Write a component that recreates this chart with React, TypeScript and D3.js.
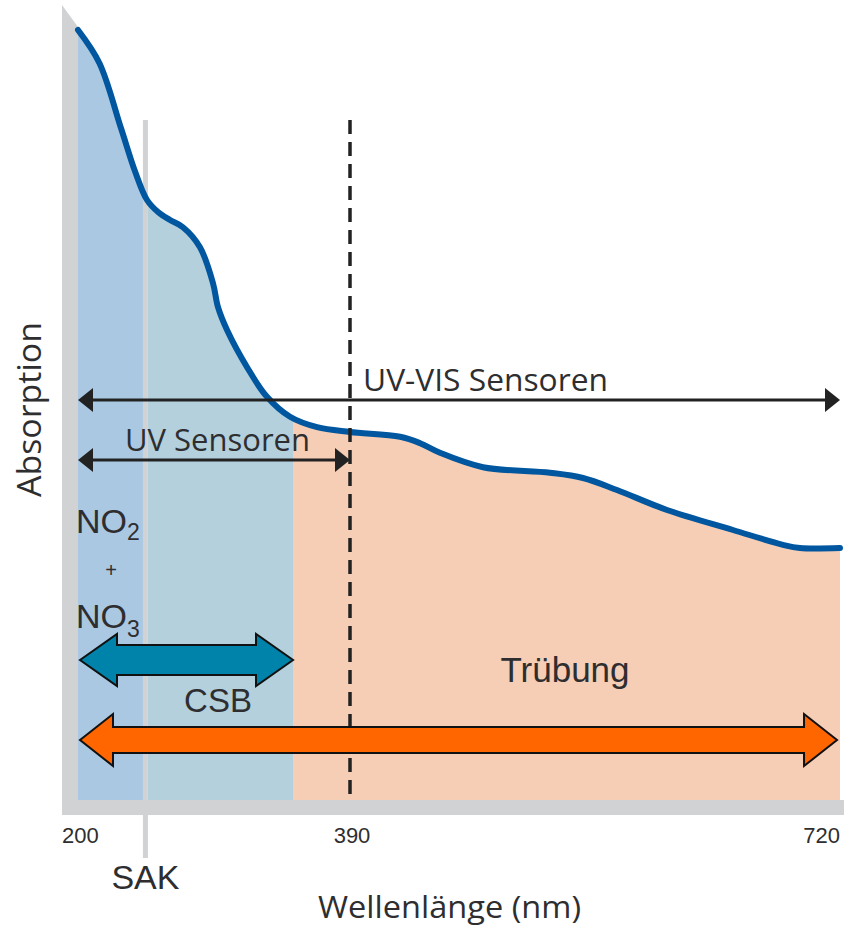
import React from "react";
import * as d3 from "d3";

// absorption spectrum (wavelength nm, absorption in %)
const curveNm = [200, 215, 230, 240, 248.2, 255.9, 264.3, 273.3, 285.2, 294.3, 297.8, 304.1, 318.1, 332.0, 348.1, 367.0, 390, 423.7, 437.2, 450.6, 479.6, 524.7, 546.9, 569.8, 603.5, 647.9, 681.6, 693.0, 720];
const curveAbs = [96.25, 92.1, 84.0, 78.5, 75.0, 73.5, 72.5, 71.6, 69.1, 64.6, 61.6, 58.75, 54.1, 50.4, 47.9, 46.6, 46.0, 45.4, 44.6, 43.4, 41.6, 40.9, 40.25, 38.75, 36.25, 33.75, 31.9, 31.5, 31.5];

// coloured bands under the curve
const bandFrom = [200, 248.9, 350.2];
const bandTo = [245.7, 350.2, 720];
const bandColors = ["#abc8e3", "#b3d0dc", "#f6cdb5"];

const ticks = [200, 390, 720];
const sakNm = 247.1;
const limitNm = 390;

// measuring ranges
const lineArrows = [
  { label: "UV-VIS Sensoren", from: 200, to: 720 },
  { label: "UV Sensoren", from: 200, to: 390 },
];
const blockArrows = [
  { label: "CSB", from: 201.4, to: 350.2, color: "#0083aa" },
  { label: "Trübung", from: 201.4, to: 718, color: "#ff6600" },
];

const W = 844;
const H = 928;
const myriad = "'Open Sans', 'DejaVu Sans', sans-serif";
const arial = "'Liberation Sans', Arial, sans-serif";
const textColor = "#2e2e30";
const gray = "#d1d2d4";

export default function App() {
  const x = d3.scaleLinear().domain([200, 390, 720]).range([78, 350, 840]);
  const y = d3.scaleLinear().domain([0, 100]).range([800, 0]);

  const pts: [number, number][] = curveNm.map((d, i) => [d, curveAbs[i]]);
  const line = d3
    .line<[number, number]>()
    .x((d) => x(d[0]))
    .y((d) => y(d[1]))
    .curve(d3.curveCatmullRom.alpha(0.5));
  const area = d3
    .area<[number, number]>()
    .x((d) => x(d[0]))
    .y0(y(0))
    .y1((d) => y(d[1]))
    .curve(d3.curveCatmullRom.alpha(0.5));

  const lineY = [400, 460];
  const blockY = [660, 740];
  const shaft = [15, 13];
  const head = [26, 26];
  const headLen = [37, 33];

  const blockPath = (x0: number, x1: number, cy: number, h: number, hh: number, l: number) =>
    [
      [x0, cy],
      [x0 + l, cy - hh],
      [x0 + l, cy - h],
      [x1 - l, cy - h],
      [x1 - l, cy - hh],
      [x1, cy],
      [x1 - l, cy + hh],
      [x1 - l, cy + h],
      [x0 + l, cy + h],
      [x0 + l, cy + hh],
    ]
      .map((p, i) => (i ? "L" : "M") + p[0] + "," + p[1])
      .join("") + "Z";

  return (
    <svg width={W} height={H} style={{ position: "absolute", left: 0, top: 0, background: "#fff" }}>
      <defs>
        <clipPath id="under">
          <path d={area(pts) || ""} />
        </clipPath>
      </defs>

      {/* axes */}
      <path d={`M62,5L78,27L78,815L62,815Z`} fill={gray} />
      <rect x={62} y={800} width={W - 62} height={15} fill={gray} />

      {/* bands below the curve */}
      <g clipPath="url(#under)">
        {bandFrom.map((b, i) => (
          <rect key={i} x={x(b)} y={0} width={x(bandTo[i]) - x(b)} height={y(0)} fill={bandColors[i]} />
        ))}
      </g>

      {/* SAK line */}
      <line x1={x(sakNm)} x2={x(sakNm)} y1={120} y2={858} stroke={gray} strokeWidth={5} />

      <path d={line(pts) || ""} fill="none" stroke="#00569f" strokeWidth={6} strokeLinecap="round" />

      {/* sensor ranges */}
      {lineArrows.map((a, i) => {
        const x0 = x(a.from);
        const x1 = x(a.to);
        const cy = lineY[i];
        return (
          <g key={a.label}>
            <line x1={x0 + 10} x2={x1 - 10} y1={cy} y2={cy} stroke="#222" strokeWidth={3} />
            <path d={`M${x0},${cy}L${x0 + 15},${cy - 12}L${x0 + 15},${cy + 12}Z`} fill="#222" />
            <path d={`M${x1},${cy}L${x1 - 15},${cy - 12}L${x1 - 15},${cy + 12}Z`} fill="#222" />
          </g>
        );
      })}

      {/* 390 nm limit */}
      <line x1={x(limitNm)} x2={x(limitNm)} y1={120} y2={800} stroke="#222" strokeWidth={3.5} strokeDasharray="14,8" />

      <text x={363} y={391} fontFamily={myriad} fontSize={31} textLength={245} lengthAdjust="spacingAndGlyphs" fill={textColor}>UV-VIS Sensoren</text>
      <text x={125} y={451} fontFamily={myriad} fontSize={31} textLength={185} lengthAdjust="spacingAndGlyphs" fill={textColor}>UV Sensoren</text>

      {blockArrows.map((a, i) => (
        <path
          key={a.label}
          d={blockPath(x(a.from), x(a.to), blockY[i], shaft[i], head[i], headLen[i])}
          fill={a.color}
          stroke="#111"
          strokeWidth={2}
        />
      ))}
      <text x={218} y={712} textAnchor="middle" fontFamily={arial} fontSize={33} fill={textColor}>CSB</text>
      <text x={565} y={682} textAnchor="middle" fontFamily={arial} fontSize={35} fill={textColor}>Trübung</text>

      {/* NO2 + NO3 */}
      <text x={76} y={533} fontFamily={arial} fontSize={34} fill={textColor}>
        NO<tspan fontSize={23} dy={7}>2</tspan>
      </text>
      <text x={111} y={577} textAnchor="middle" fontFamily={arial} fontSize={20} fill={textColor}>+</text>
      <text x={76} y={628} fontFamily={arial} fontSize={34} fill={textColor}>
        NO<tspan fontSize={23} dy={9}>3</tspan>
      </text>

      {/* x ticks */}
      {ticks.map((t, i) => (
        <text
          key={t}
          x={i === 0 ? x(t) - 16 : i === ticks.length - 1 ? x(t) : x(t) + 2}
          y={843}
          textAnchor={i === 0 ? "start" : i === ticks.length - 1 ? "end" : "middle"}
          fontFamily={arial}
          fontSize={22}
          fill={textColor}
        >
          {t}
        </text>
      ))}
      <text x={x(sakNm)} y={889} textAnchor="middle" fontFamily={arial} fontSize={34} fill={textColor}>SAK</text>

      <text x={318} y={918} fontFamily={myriad} fontSize={31} textLength={263} lengthAdjust="spacingAndGlyphs" fill={textColor}>Wellenlänge (nm)</text>
      <text
        transform="translate(41,497) rotate(-90)"
        fontFamily={myriad}
        fontSize={32}
        textLength={175}
        lengthAdjust="spacingAndGlyphs"
        fill={textColor}
      >
        Absorption
      </text>
    </svg>
  );
}
